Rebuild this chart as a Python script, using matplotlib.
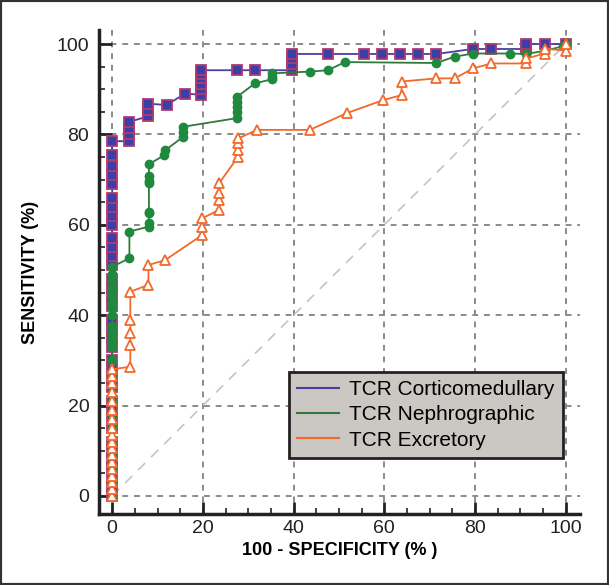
import matplotlib
matplotlib.use("Agg")
import matplotlib.pyplot as plt
from matplotlib.patches import Rectangle
from matplotlib.ticker import MultipleLocator

plt.rcParams['font.family'] = ['Liberation Sans', 'DejaVu Sans']

# ROC points (100 - specificity, sensitivity)
cm_x = [0, 0, 0, 0, 0, 0, 0, 0, 0, 0, 0, 0, 0, 0, 0, 0, 0, 0, 0, 0,
        0, 0, 0, 0, 0, 0, 0, 0, 0, 0, 0, 0, 0, 0, 0, 0,
        3.8, 3.8, 3.8, 3.8, 8, 8, 8, 12, 16,
        19.6, 19.6, 19.6, 19.6, 19.6, 19.6,
        27.5, 31.6, 39.6, 39.6, 39.6, 39.6,
        47.6, 55.6, 59.4, 63.4, 67.4, 71.5,
        79.5, 83.5, 91.3, 91.3, 91.3, 95.4, 100]
cm_y = [0, 2, 4, 6, 8, 10, 12, 15, 17, 19, 21, 24, 26, 28, 30, 33, 35, 37, 39, 42,
        44, 46, 48, 51, 53, 55, 57, 60, 62, 64, 66, 69, 71, 73, 75.5, 78.5,
        78.5, 80, 81.5, 82.8, 84, 85.3, 86.8, 86.5, 89,
        88.8, 90, 91.2, 92.4, 93.4, 94.2,
        94.2, 94.2, 94.2, 95.6, 96.8, 97.8,
        97.8, 97.8, 97.8, 97.8, 97.8, 97.8,
        98.9, 98.9, 98.9, 99.5, 100, 100, 100]

ne_x = [0, 0, 0, 0, 0, 0, 0, 0, 0, 0, 0, 0, 0, 0, 0, 0, 0, 0, 0, 0, 0, 0, 0,
        3.8, 3.8, 8.1, 8.1, 8.1, 8.1, 8.1, 8.1, 8.1, 8.1,
        11.5, 11.7, 15.7, 15.7, 15.7,
        27.5, 27.5, 27.5, 27.5, 27.5, 31.5, 35.2, 35.2, 35.2,
        43.6, 47.6, 51.3, 71.5, 75.5, 79.6, 87.7, 91.3, 95.4, 99.4, 100]
ne_y = [0, 3, 6, 9, 12, 15, 18, 21, 24, 27, 30, 33, 34.5, 36, 37.5, 40, 41.5, 43, 44.5, 46, 47.5, 49, 50.7,
        52.6, 58.5, 59.6, 60.3, 62.5, 62.9, 69.2, 69.6, 70.7, 73.4,
        75.4, 76.5, 79.5, 80.5, 81.7,
        83.6, 85, 86, 87.2, 88.3, 91.3, 92.2, 92.8, 93.5,
        93.9, 94.2, 96, 95.8, 97.2, 97.9, 97.9, 97.8, 98.5, 99.5, 100]

ex_x = [0, 0, 0, 0, 0, 0, 0, 0, 0, 0, 0, 0, 0, 0, 0, 0, 0, 0,
        4, 4, 4, 4, 4, 8, 8, 11.7,
        19.8, 19.8, 19.8, 23.6, 23.6, 23.6, 23.6,
        27.8, 27.8, 27.8, 27.8, 31.9, 43.6, 51.7, 59.8,
        63.8, 63.8, 71.5, 75.5, 79.6, 83.6, 91.3, 91.3, 95.4, 95.4, 100, 100]
ex_y = [0, 1.5, 3, 4.5, 6, 7.5, 9, 10.5, 12, 13.5, 15, 17, 19, 21, 23, 25, 26.5, 28,
        28.6, 33.5, 36, 39, 45.2, 46.7, 51.1, 52.2,
        57.7, 59.5, 61.4, 63.3, 65.5, 67, 69.2,
        75.1, 76.5, 78, 79.1, 81, 81, 84.7, 87.6,
        88.7, 91.7, 92.4, 92.4, 94.6, 95.7, 95.7, 96.8, 97.9, 99, 98.5, 100]

labels = ['TCR Corticomedullary', 'TCR Nephrographic', 'TCR Excretory']
ticks = [0, 20, 40, 60, 80, 100]

fig = plt.figure(figsize=(6.09, 5.85), dpi=100)
ax = fig.add_axes([0.1626, 0.1214, 0.7894, 0.8273])

ax.set_xlim(-2.9, 103.1)
ax.set_ylim(-4.0, 103.1)

# grid + chance line
for t in ticks:
    ax.axvline(t, color='#8a8a8a', lw=1.4, ls=(0, (3, 3)), zorder=1)
    ax.axhline(t, color='#8a8a8a', lw=1.4, ls=(0, (3, 3)), zorder=1)
ax.plot([0, 100], [0, 100], color='#c4c4c4', lw=1.2, ls=(0, (6, 5)), zorder=1)

ax.plot(cm_x, cm_y, color='#4a3fa0', lw=1.3, marker='s', ms=6.5,
        mfc='#3d3fa8', mec='#b03a6e', mew=1.3, zorder=3)
ax.plot(ne_x, ne_y, color='#2f7a3a', lw=1.3, marker='o', ms=6,
        mfc='#1f8a3e', mec='#1f8a3e', zorder=4)
ax.plot(ex_x, ex_y, color='#f2692a', lw=1.3, marker='^', ms=7,
        mfc='white', mec='#f2692a', mew=1.3, zorder=5)

legend_lines = [plt.Line2D([], [], color=c, lw=1.5) for c in ['#4a3fa0', '#2f7a3a', '#f2692a']]
leg = ax.legend(legend_lines, labels, loc='lower right', bbox_to_anchor=(0.965, 0.116),
                fontsize=15, frameon=True, fancybox=False, handlelength=2.0,
                borderpad=0.4, labelspacing=0.3, handletextpad=0.5, borderaxespad=0)
leg.get_frame().set_facecolor('#cbc7c3')
leg.get_frame().set_edgecolor('#222222')
leg.get_frame().set_linewidth(2)
leg.get_frame().set_alpha(1)
leg.set_zorder(10)

ax.set_xticks(ticks)
ax.set_yticks(ticks)
ax.xaxis.set_minor_locator(MultipleLocator(5))
ax.yaxis.set_minor_locator(MultipleLocator(5))
ax.tick_params(which='major', direction='in', length=9, width=2, color='#222',
               labelsize=14, labelcolor='#222', pad=7)
ax.tick_params(axis='x', which='major', pad=4)
ax.tick_params(which='minor', direction='in', length=4.5, width=1.2, color='#222')

for s in ['top', 'right']:
    ax.spines[s].set_visible(False)
for s in ['left', 'bottom']:
    ax.spines[s].set_linewidth(2.5)
    ax.spines[s].set_color('#222')

ax.set_xlabel('100 - SPECIFICITY (% )', fontsize=13, fontweight='bold', labelpad=4)
ax.set_ylabel('SENSITIVITY (%)', fontsize=13, fontweight='bold', labelpad=13)

fig.patches.append(Rectangle((0, 0), 1, 1, transform=fig.transFigure, fill=False,
                             edgecolor='#333333', linewidth=3))

fig.savefig('out.png', dpi=100)
